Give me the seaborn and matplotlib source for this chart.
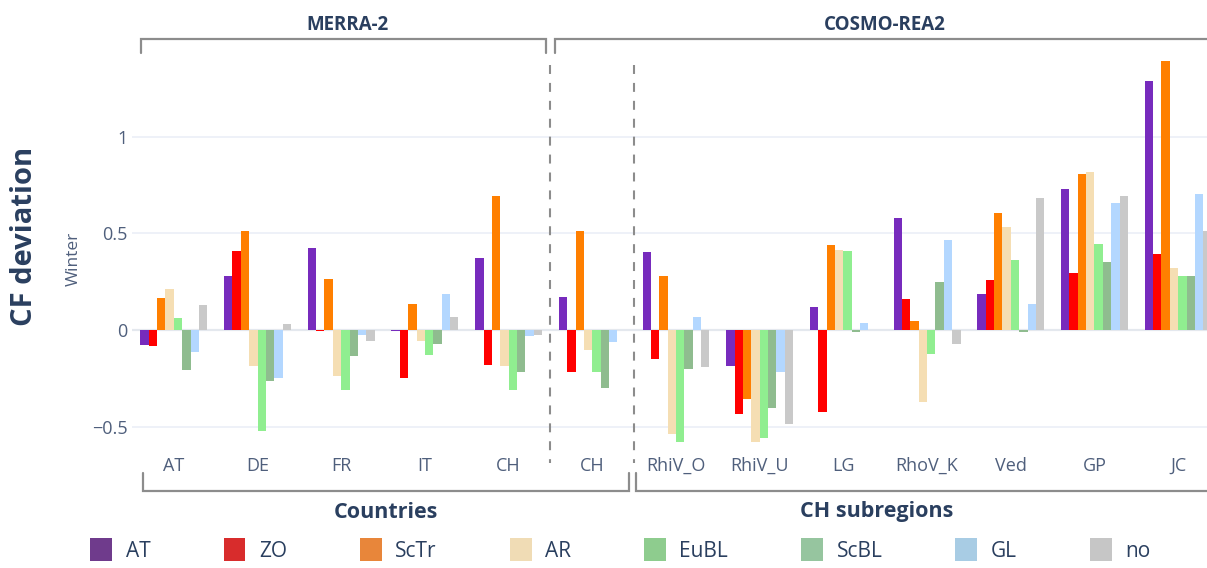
import numpy as np
import pandas as pd
import matplotlib
matplotlib.use("Agg")
import matplotlib.pyplot as plt
import matplotlib.transforms as mtransforms
from matplotlib.patches import Patch
import seaborn as sns

# ---------------------------------------------------------------- data
regions = ["AT", "DE", "FR", "IT", "CH", "CH", "RhiV_O", "RhiV_U",
           "LG", "RhoV_K", "Ved", "GP", "JC"]
regimes = ["AT", "ZO", "ScTr", "AR", "EuBL", "ScBL", "GL", "no"]

# winter capacity-factor deviation per weather regime, one value per region
dev_AT = [-0.076, 0.278, 0.424, -0.003, 0.372, 0.169, 0.402, -0.184, 0.117, 0.581, 0.188, 0.731, 1.288]
dev_ZO = [-0.085, 0.410, -0.004, -0.250, -0.180, -0.216, -0.152, -0.434, -0.426, 0.159, 0.260, 0.297, 0.391]
dev_ScTr = [0.165, 0.514, 0.264, 0.134, 0.693, 0.512, 0.279, -0.357, 0.440, 0.047, 0.607, 0.805, 1.391]
dev_AR = [0.210, -0.188, -0.240, -0.059, -0.188, -0.103, -0.540, -0.590, 0.412, -0.374, 0.533, 0.816, 0.319]
dev_EuBL = [0.062, -0.524, -0.309, -0.128, -0.312, -0.216, -0.600, -0.557, 0.410, -0.126, 0.360, 0.445, 0.278]
dev_ScBL = [-0.208, -0.264, -0.135, -0.073, -0.215, -0.302, -0.203, -0.405, -0.009, 0.248, -0.009, 0.352, 0.278]
dev_GL = [-0.113, -0.250, -0.024, 0.184, -0.030, -0.060, 0.069, -0.219, 0.038, 0.466, 0.136, 0.655, 0.703]
dev_no = [0.127, 0.031, -0.056, 0.066, -0.024, 0.0, -0.190, -0.486, 0.0, -0.074, 0.681, 0.693, 0.512]

ytick_values = [-0.5, 0, 0.5, 1]
ytick_labels = ["\u22120.5", "0", "0.5", "1"]

# ---------------------------------------------------------------- styles
bar_colors = ["#772bbd", "#ff0000", "#ff7f00", "#f5deb3",
              "#90ee90", "#8fbc8f", "#b3d7ff", "#c9c9c9"]
legend_colors = ["#6f3b8c", "#d82c2c", "#e8863a", "#f0dcb5",
                 "#8ecc8e", "#96c59f", "#a8cce4", "#c6c6c6"]
navy = "#2a3f5f"
tick_grey = "#4f5f7c"
bracket_grey = "#8c8c8c"

sns.set_theme(style="white")
plt.rcParams["font.family"] = ["Open Sans", "DejaVu Sans"]

series = [dev_AT, dev_ZO, dev_ScTr, dev_AR, dev_EuBL, dev_ScBL, dev_GL, dev_no]
region_keys = [f"{i:02d}_{r}" for i, r in enumerate(regions)]
df = pd.DataFrame(
    [(k, reg, v) for reg, vals in zip(regimes, series)
     for k, v in zip(region_keys, vals)],
    columns=["region", "regime", "value"],
)

W, H = 1207, 568
fig = plt.figure(figsize=(W / 100, H / 100), dpi=100)
# plot area runs a little past the right edge of the canvas
ax_l, ax_r, ax_t, ax_b = 132, 1220, 49.7, 441.7
ax = fig.add_axes([ax_l / W, 1 - ax_b / H, (ax_r - ax_l) / W, (ax_b - ax_t) / H])

sns.barplot(data=df, x="region", y="value", hue="regime",
            order=region_keys, hue_order=regimes, palette=bar_colors,
            saturation=1, width=0.8, errorbar=None, linewidth=0,
            legend=False, ax=ax, zorder=2)

ax.set_xlim(-0.5, len(regions) - 0.5)
ax.set_ylim(-0.578, 1.45)
ax.set_xticks(range(len(regions)))
ax.set_xticklabels(regions, fontsize=13, color=tick_grey)
ax.set_yticks(ytick_values)
ax.set_yticklabels(ytick_labels, fontsize=13, color=tick_grey)
ax.tick_params(axis="x", length=0, pad=11)
ax.tick_params(axis="y", length=0, pad=3)
ax.set_xlabel("")
ax.set_ylabel("")
for s in ax.spines.values():
    s.set_visible(False)
ax.grid(False)
for yv in ytick_values:
    if yv == 0:
        ax.axhline(yv, color="#e4e8ee", lw=1.6, zorder=1)
    else:
        ax.axhline(yv, color="#e9eef6", lw=1.1, zorder=1)
ax.set_facecolor("white")

# helpers: x in data units, y in canvas pixels from top
tr = mtransforms.blended_transform_factory(ax.transData, fig.transFigure)


def fy(px):
    return 1 - px / H


# dataset separators
for xs in (4.5, 5.5):
    ax.plot([xs, xs], [fy(65), fy(463)], transform=tr, clip_on=False,
            color=bracket_grey, lw=1.5, dashes=(4.3, 4.3), zorder=3)


def bracket(x0, x1, y_line, y_end):
    ax.plot([x0, x0, x1, x1], [fy(y_end), fy(y_line), fy(y_line), fy(y_end)],
            transform=tr, clip_on=False, color=bracket_grey, lw=1.6,
            solid_joinstyle="miter", zorder=3)


# top brackets: reanalysis datasets
bracket(-0.39, 4.45, 38.5, 53)
bracket(4.56, 12.65, 38.5, 53)
ax.text(2.08, fy(25), "MERRA-2", transform=tr, ha="center", va="center",
        fontsize=13.5, fontweight="bold", color=navy)
ax.text(8.5, fy(25), "COSMO-REA2", transform=tr, ha="center", va="center",
        fontsize=13.5, fontweight="bold", color=navy)

# bottom brackets: region groups
bracket(-0.37, 5.44, 490.5, 473)
bracket(5.52, 12.65, 490.5, 473)
ax.text(2.53, fy(512), "Countries", transform=tr, ha="center", va="center",
        fontsize=15.5, fontweight="bold", color=navy)
ax.text(8.4, fy(512), "CH subregions", transform=tr, ha="center", va="center",
        fontsize=15.5, fontweight="bold", color=navy)

# axis titles
fig.text(25 / W, fy(236), "CF deviation", rotation=90, ha="center",
         va="center", fontsize=21, fontweight="bold", color=navy)
fig.text(74 / W, fy(259), "Winter", rotation=90, ha="center", va="center",
         fontsize=12.5, color=tick_grey)

# legend
handles = [Patch(facecolor=c, edgecolor="none", label=r)
           for c, r in zip(legend_colors, regimes)]
fig.legend(handles=handles, loc="center", bbox_to_anchor=(0.514, fy(550)),
           ncol=len(regimes), frameon=False, fontsize=15,
           handlelength=1.05, handleheight=1.25, handletextpad=0.65,
           columnspacing=3.5, labelcolor=navy, borderaxespad=0)

fig.savefig("out.png", dpi=100, facecolor="white")
